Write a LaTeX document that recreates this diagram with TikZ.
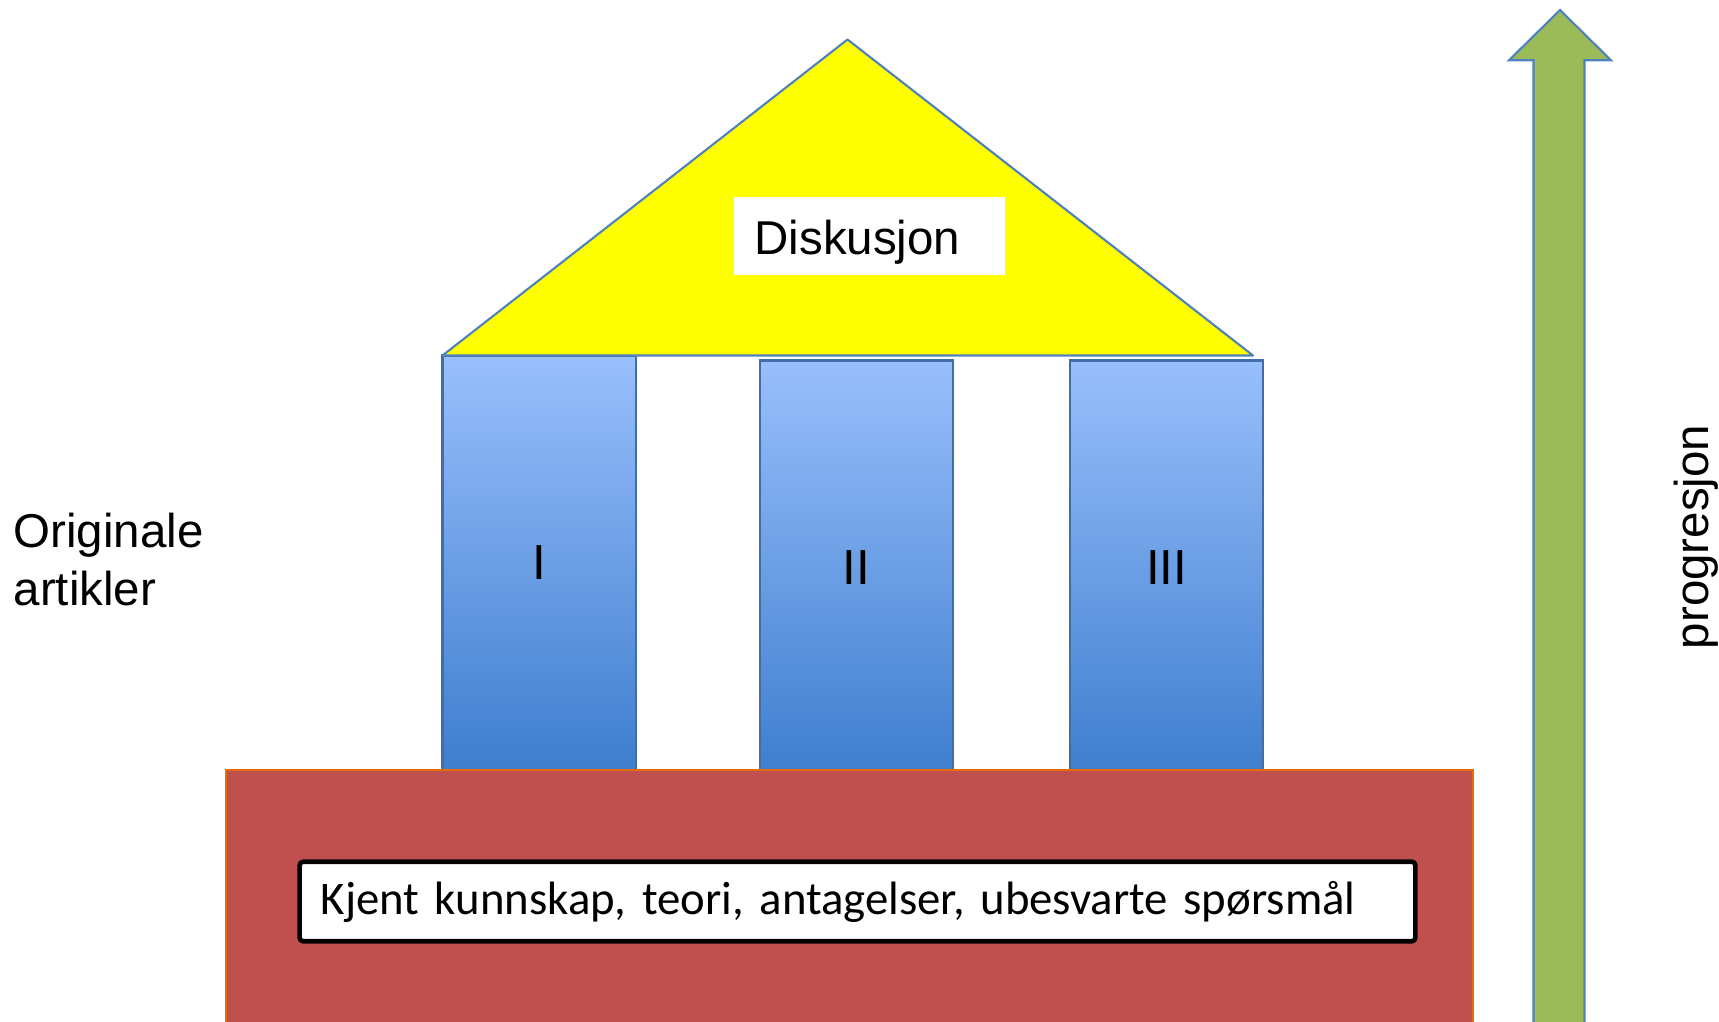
\documentclass[tikz,border=0pt]{standalone}
\usepackage{fontspec}
\setmainfont{Liberation Sans}
\newfontfamily\calibri{Carlito}
\usepackage{tikz}
\usetikzlibrary{calc,positioning}
\frenchspacing
\definecolor{roofyellow}{RGB}{255,255,0}
\definecolor{officeblue}{RGB}{79,129,189}
\definecolor{pillartop}{RGB}{153,191,252}
\definecolor{pillarbottom}{RGB}{62,126,206}
\definecolor{pillarline}{RGB}{65,110,170}
\definecolor{basered}{RGB}{192,80,77}
\definecolor{baseline}{RGB}{228,108,10}
\definecolor{arrowgreen}{RGB}{155,187,89}
\tikzstyle{pillar}=[
  draw=pillarline,
  font={\fontsize{14}{17}\selectfont},
  inner sep=0pt,
  minimum height=4.14cm,
  minimum width=1.93cm,
  outer sep=0pt,
  rectangle,
  anchor=north west,
  top color=pillartop,
  bottom color=pillarbottom,
  line width=0.6pt,
]
\tikzstyle{label}=[
  font={\fontsize{13.5}{16.5}\selectfont},
  inner sep=0pt,
]
\tikzset{
  >=stealth,
}

\begin{document}
\begin{tikzpicture}[x=0.01cm,y=-0.01cm]
      \useasboundingbox (0,0) rectangle (1719,1022);
      \node (pillarI) [pillar] at (442.5,355.5) {I};
      \node (pillarII) [pillar] at (760,360.5) {II};
      \node (pillarIII) [pillar] at (1070,360.5) {III};
      \coordinate (apex) at (847.5,39.5);
      \coordinate (eaveL) at (442.5,355.5);
      \coordinate (eaveR) at (1253,355.5);
      \draw [fill=roofyellow, draw=officeblue, line width=0.6pt, line join=round] (eaveL) -- (apex) -- (eaveR) -- cycle;
      \node (diskusjon) [label, fill=white, text width=2.3cm, inner xsep=0.2cm, text height=10.4pt, text depth=0pt, minimum height=0.78cm, align=left] at (869.5,236) {Diskusjon};
      \node (base) [rectangle, fill=basered, draw=baseline, line width=0.6pt, minimum width=12.46cm, minimum height=2.6cm, anchor=north west, inner sep=0pt] at (225,768.5) {};
      \node (kunnskap) [fill=white, draw=black, line width=1.3pt, rounded corners=1pt, text width=10.73cm, inner xsep=0.21cm, minimum height=0.795cm, align=left, font={\calibri\fontsize{13.3}{16}\selectfont}] at (857.5,901.5) {Kjent kunnskap, teori, antagelser, ubesvarte spørsmål};
      \node (artikler) [label, anchor=west, align=left] at (13,560) {Originale\\artikler};
      \coordinate (tip) at (1560,10);
      \draw [fill=arrowgreen, draw=officeblue, line width=0.6pt] (1533.5,1024) -- (1533.5,60.3) -- (1509,60.3) -- (tip) -- (1611,60.3) -- (1584.5,60.3) -- (1584.5,1024);
      \node (progresjon) [label, rotate=90] at (1696,537) {progresjon};
    \end{tikzpicture}
\end{document}
